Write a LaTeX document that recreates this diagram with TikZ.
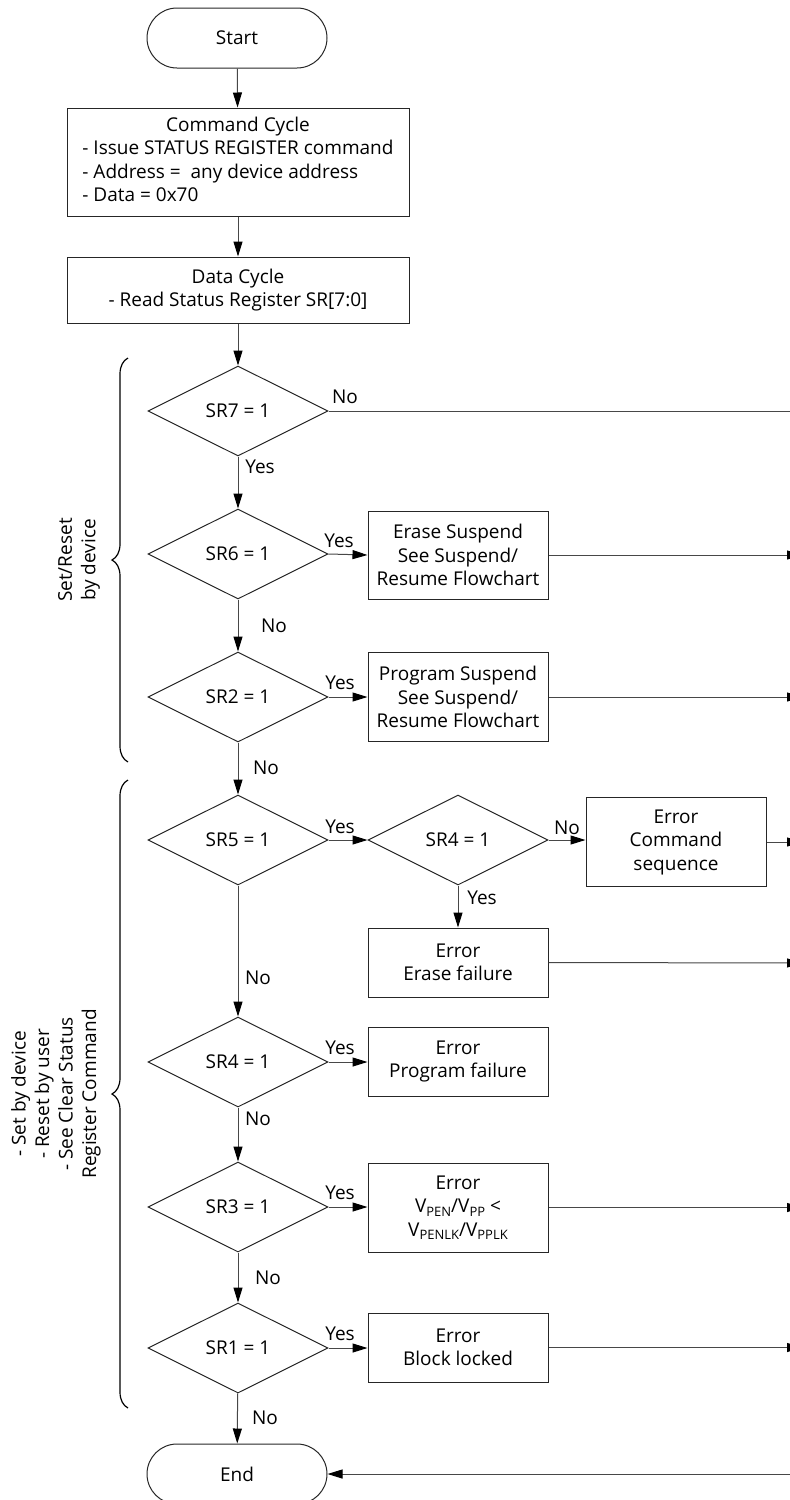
\documentclass[tikz,border=0pt]{standalone}
\usepackage{fontspec}
\setmainfont{Open Sans}
\usetikzlibrary{shapes.geometric,arrows.meta,decorations.pathreplacing}
\newcommand{\lowtxt}[1]{\raisebox{-0.35ex}{\fontsize{13}{13}\selectfont #1}}
\begin{document}
\begin{tikzpicture}[x=1pt,y=-1pt,
  every node/.style={font=\fontsize{19}{23.5}\selectfont},
  term/.style={draw=black!85,line width=1pt,rounded corners=30pt,minimum width=180pt,minimum height=60pt,inner sep=0pt},
  box/.style={draw=black!85,line width=1pt,minimum width=180pt,inner sep=0pt,align=center},
  dec/.style={draw=black!85,line width=1pt,diamond,minimum width=180pt,minimum height=90pt,inner sep=0pt},
  conn/.style={draw=black!72,line width=1pt,-{Triangle[length=15pt,width=9pt,color=black]}},
  plain/.style={draw=black!72,line width=1pt},
  lbl/.style={inner sep=0pt,anchor=base},
  brc/.style={draw=black,line width=1.2pt,decorate,decoration={brace,amplitude=16pt}},
]
\useasboundingbox (0,0) rectangle (790,1500);

% main column
\node[term] (start) at (237,38) {Start};
\node[draw=black!85,line width=1pt,minimum width=342pt,minimum height=108pt,inner sep=0pt] (cmd) at (238,162)
  {\begin{tabular}{@{}l@{}}\multicolumn{1}{@{}c@{}}{Command Cycle}\\- Issue STATUS REGISTER command\\- Address = \ any device address\\- Data = 0x70\end{tabular}};
\node[draw=black!85,line width=1pt,minimum width=342pt,minimum height=66pt,inner sep=0pt,align=center] (data) at (238,290)
  {Data Cycle\\- Read Status Register SR[7:0]};

\node[dec] (sr7) at (238,411) {SR7 = 1};
\node[dec] (sr6) at (238,554) {SR6 = 1};
\node[dec] (sr2) at (238,697) {SR2 = 1};
\node[dec] (sr5) at (238,840) {SR5 = 1};
\node[dec] (sr4) at (238,1062) {SR4 = 1};
\node[dec] (sr3) at (238,1207) {SR3 = 1};
\node[dec] (sr1) at (238,1348) {SR1 = 1};
\node[term] (end) at (237,1474) {End};

% right column
\node[box,minimum height=88pt] (es) at (458,555) {Erase Suspend\\See Suspend/\\Resume Flowchart};
\node[box,minimum height=89pt] (ps) at (458,697) {Program Suspend\\See Suspend/\\Resume Flowchart};
\node[dec] (sr4a) at (458,840) {SR4 = 1};
\node[box,minimum height=89pt] (ecs) at (676,842) {Error\\Command\\sequence};
\node[box,minimum height=69pt] (ef) at (458,962.5) {Error\\Erase failure};
\node[box,minimum height=69pt] (pf) at (458,1061.5) {Error\\Program failure};
\node[box,minimum height=89pt] (vp) at (458,1207.5) {Error\\V\lowtxt{PEN}/V\lowtxt{PP} <\\V\lowtxt{PENLK}/V\lowtxt{PPLK}};
\node[box,minimum height=69pt] (bl) at (458,1347.5) {Error\\Block locked};

% right-edge coordinates (bus outside the picture)
\coordinate (r7) at (800,411);
\coordinate (res) at (802,555);
\coordinate (rps) at (802,697);
\coordinate (recs) at (802,842);
\coordinate (ref) at (802,963);
\coordinate (rvp) at (802,1207.5);
\coordinate (rbl) at (802,1347.5);
\coordinate (rend) at (800,1474);

% connectors
\draw[conn] (start) -- (cmd);
\draw[conn] (cmd) -- (data);
\draw[conn] (data) -- (sr7);
\draw[plain] (sr7.east) -- (r7);
\draw[conn] (sr7) -- (sr6);
\draw[conn] (sr6.east) -- (es.west);
\draw[conn] (es.east) -- (res);
\draw[conn] (sr6) -- (sr2);
\draw[conn] (sr2.east) -- (ps.west);
\draw[conn] (ps.east) -- (rps);
\draw[conn] (sr2) -- (sr5);
\draw[conn] (sr5.east) -- (sr4a.west);
\draw[conn] (sr4a.east) -- (ecs.west |- sr4a.east);
\draw[conn] (ecs.east |- recs) -- (recs);
\draw[conn] (sr4a) -- (ef);
\draw[conn] (ef.east) -- (ref);
\draw[conn] (sr5) -- (sr4);
\draw[conn] (sr4.east) -- (pf.west |- sr4.east);
\draw[conn] (sr4) -- (sr3);
\draw[conn] (sr3.east) -- (vp.west |- sr3.east);
\draw[conn] (vp.east) -- (rvp);
\draw[conn] (sr3) -- (sr1);
\draw[conn] (sr1.east) -- (bl.west |- sr1.east);
\draw[conn] (bl.east) -- (rbl);
\draw[conn] (sr1) -- (end);
\draw[conn] (rend) -- (end.east);

% labels
\node[lbl] (l7n) at (345,403) {No};
\node[lbl] (l7y) at (260,473) {Yes};
\node[lbl] (l6y) at (339,547) {Yes};
\node[lbl] (l6n) at (274,632) {No};
\node[lbl] (l2y) at (340,689) {Yes};
\node[lbl] (l2n) at (266,774) {No};
\node[lbl] (l5y) at (340,833) {Yes};
\node[lbl] (l4an) at (567,834) {No};
\node[lbl] (l4ay) at (482,904) {Yes};
\node[lbl] (l5n) at (258,984) {No};
\node[lbl] (l4y) at (340,1054) {Yes};
\node[lbl] (l4n) at (258,1125) {No};
\node[lbl] (l3y) at (340,1199) {Yes};
\node[lbl] (l3n) at (268,1284) {No};
\node[lbl] (l1y) at (340,1340) {Yes};
\node[lbl] (l1n) at (265,1424) {No};

% braces
\coordinate (b1t) at (128,358);
\coordinate (b1b) at (128,762);
\coordinate (b2t) at (128,780);
\coordinate (b2b) at (128,1408);
\draw[brc] (b1b) -- (b1t);
\draw[brc] (b2b) -- (b2t);
\node[rotate=90,align=center,inner sep=0pt] (t1) at (79,560) {Set/Reset\\by device};
\node[rotate=90,align=center,inner sep=0pt] (t2) at (56,1094) {- Set by device\\- Reset by user\\- See Clear Status\\Register Command};
\end{tikzpicture}
\end{document}
